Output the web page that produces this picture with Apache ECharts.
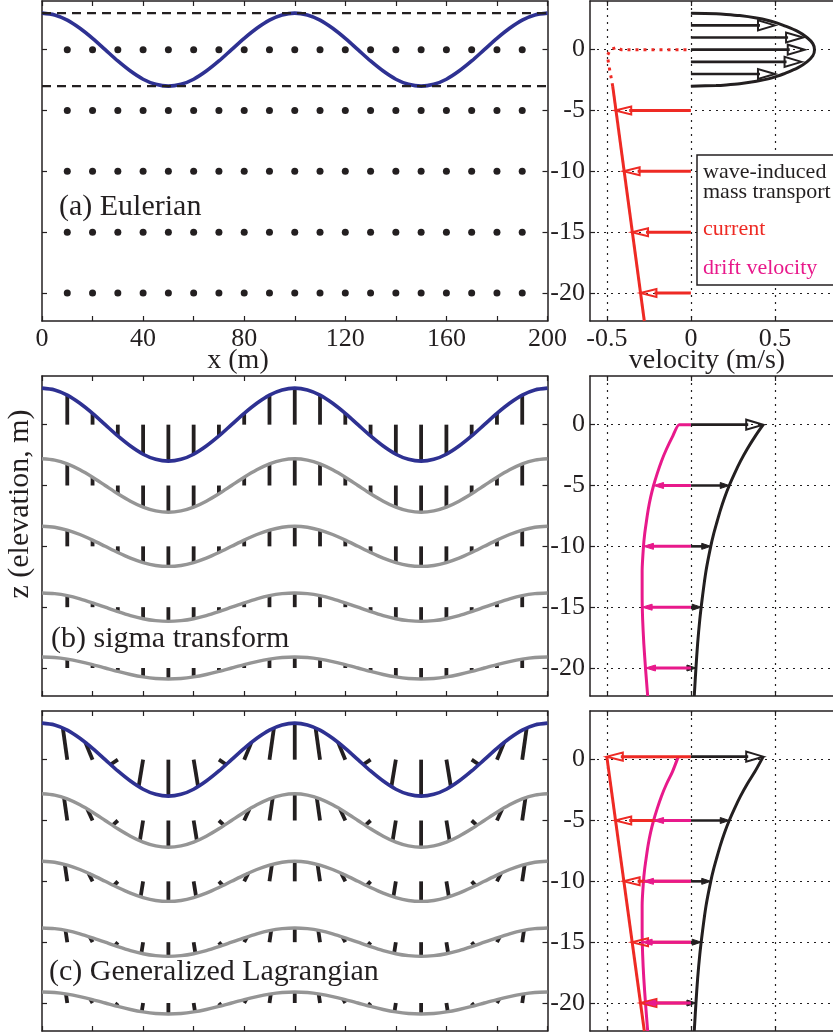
<!DOCTYPE html>
<html><head><meta charset="utf-8">
<script src="https://cdn.jsdelivr.net/npm/echarts@6/dist/echarts.min.js"></script>
<style>html,body{margin:0;padding:0;background:#fff}#c{width:833px;height:1034px}</style>
</head><body><div id="c"></div><script>
// ---------------- data ----------------
// left panels: x positions (m) of the plotted wave / layer curves
const xGrid = [0,5,10,15,20,25,30,35,40,45,50,55,60,65,70,75,80,85,90,95,100,105,110,115,120,125,130,135,140,145,150,155,160,165,170,175,180,185,190,195,200];
// free surface and four deeper layers (elevation, m)
const surface = [3,2.85,2.43,1.76,0.93,0,-0.93,-1.76,-2.43,-2.85,-3,-2.85,-2.43,-1.76,-0.93,0,0.93,1.76,2.43,2.85,3,2.85,2.43,1.76,0.93,0,-0.93,-1.76,-2.43,-2.85,-3,-2.85,-2.43,-1.76,-0.93,0,0.93,1.76,2.43,2.85,3];
const layer5 = [-2.8,-2.91,-3.22,-3.71,-4.32,-5,-5.68,-6.29,-6.78,-7.09,-7.2,-7.09,-6.78,-6.29,-5.68,-5,-4.32,-3.71,-3.22,-2.91,-2.8,-2.91,-3.22,-3.71,-4.32,-5,-5.68,-6.29,-6.78,-7.09,-7.2,-7.09,-6.78,-6.29,-5.68,-5,-4.32,-3.71,-3.22,-2.91,-2.8];
const layer10 = [-8.35,-8.43,-8.67,-9.03,-9.49,-10,-10.51,-10.97,-11.33,-11.57,-11.65,-11.57,-11.33,-10.97,-10.51,-10,-9.49,-9.03,-8.67,-8.43,-8.35,-8.43,-8.67,-9.03,-9.49,-10,-10.51,-10.97,-11.33,-11.57,-11.65,-11.57,-11.33,-10.97,-10.51,-10,-9.49,-9.03,-8.67,-8.43,-8.35];
const layer15 = [-13.83,-13.89,-14.05,-14.31,-14.64,-15,-15.36,-15.69,-15.95,-16.11,-16.17,-16.11,-15.95,-15.69,-15.36,-15,-14.64,-14.31,-14.05,-13.89,-13.83,-13.89,-14.05,-14.31,-14.64,-15,-15.36,-15.69,-15.95,-16.11,-16.17,-16.11,-15.95,-15.69,-15.36,-15,-14.64,-14.31,-14.05,-13.89,-13.83];
const layer20 = [-19.1,-19.14,-19.27,-19.47,-19.72,-20,-20.28,-20.53,-20.73,-20.86,-20.9,-20.86,-20.73,-20.53,-20.28,-20,-19.72,-19.47,-19.27,-19.14,-19.1,-19.14,-19.27,-19.47,-19.72,-20,-20.28,-20.53,-20.73,-20.86,-20.9,-20.86,-20.73,-20.53,-20.28,-20,-19.72,-19.47,-19.27,-19.14,-19.1];
const layerMeans = [0,-5,-10,-15,-20];
// panel (a): dashed crest/trough levels, grid points
const dashLevels = [3,-3];
const xRange = [0,200];
const dotX = [10,20,30,40,50,60,70,80,90,100,110,120,130,140,150,160,170,180,190];
const dotZ = [0,-5,-10,-15,-20];
// panels (b),(c): stick mean positions
const stickX = [10,20,30,40,50,60,70,80,90,100,110,120,130,140,150,160,170,180,190];
// panel (c): displaced (Lagrangian) stick end points per layer
const glmEndX0 = [8.24,17.15,27.15,38.24,50,61.76,72.85,82.85,91.76,100,108.24,117.15,127.15,138.24,150,161.76,172.85,182.85,191.76];
const glmEndZ0 = [2.61,1.42,-0.40,-2.22,-3,-2.22,-0.40,1.42,2.61,3,2.61,1.42,-0.40,-2.22,-3,-2.22,-0.40,1.42,2.61];
const glmEndX1 = [8.71,17.91,27.91,38.71,50,61.29,72.09,82.09,91.29,100,108.71,117.91,127.91,138.71,150,161.29,172.09,182.09,191.29];
const glmEndZ1 = [-3.12,-4.05,-5.40,-6.67,-7.2,-6.67,-5.40,-4.05,-3.12,-2.8,-3.12,-4.05,-5.40,-6.67,-7.2,-6.67,-5.40,-4.05,-3.12];
const glmEndX2 = [9.03,18.43,28.43,39.03,50,60.97,71.57,81.57,90.97,100,109.03,118.43,128.43,139.03,150,160.97,171.57,181.57,190.97];
const glmEndZ2 = [-8.61,-9.34,-10.35,-11.27,-11.65,-11.27,-10.35,-9.34,-8.61,-8.35,-8.61,-9.34,-10.35,-11.27,-11.65,-11.27,-10.35,-9.34,-8.61];
const glmEndX3 = [9.31,18.89,28.89,39.31,50,60.69,71.11,81.11,90.69,100,109.31,118.89,128.89,139.31,150,160.69,171.11,181.11,190.69];
const glmEndZ3 = [-14.02,-14.56,-15.28,-15.92,-16.17,-15.92,-15.28,-14.56,-14.02,-13.83,-14.02,-14.56,-15.28,-15.92,-16.17,-15.92,-15.28,-14.56,-14.02];
const glmEndX4 = [9.47,19.14,29.14,39.47,50,60.53,70.86,80.86,90.53,100,109.47,119.14,129.14,139.47,150,160.53,170.86,180.86,190.53];
const glmEndZ4 = [-19.25,-19.68,-20.23,-20.71,-20.9,-20.71,-20.23,-19.68,-19.25,-19.1,-19.25,-19.68,-20.23,-20.71,-20.9,-20.71,-20.23,-19.68,-19.25];

// right panel (a): wave-induced mass transport profile (z in m, v in m/s)
const massZ = [3,2.95,2.9,2.8,2.6,2.4,2.2,2,1.5,1,0.5,0,-0.5,-1,-1.5,-2,-2.2,-2.4,-2.6,-2.8,-2.9,-2.95,-3];
const massV = [0,0.15,0.21,0.29,0.39,0.46,0.51,0.55,0.635,0.69,0.725,0.735,0.725,0.69,0.635,0.55,0.51,0.46,0.39,0.29,0.21,0.15,0];
const massArrowZ = [2,1,0,-1,-2];
const massArrowV = [0.5,0.667,0.677,0.658,0.5];
const currentZa = [-3,-22.3];
const currentVa = [-0.465,-0.277];
const currentDotZ = [-3,-1.5,-0.5,0,0.2,0,0];
const currentDotV = [-0.465,-0.485,-0.497,-0.48,-0.44,-0.415,0];
const currentArrowZ = [-5,-10,-15,-20];
const currentArrowV = [-0.45,-0.4,-0.35,-0.3];

// right panel (b): Stokes drift and drift velocity
const stokesZ = [0,-1,-2,-3,-4,-5,-6,-7,-8,-9,-10,-12,-14,-16,-18,-20,-22.3];
const stokesV = [0.43,0.38,0.335,0.295,0.26,0.228,0.2,0.176,0.155,0.135,0.118,0.09,0.07,0.053,0.04,0.03,0.02];
const driftZb = [0,0,-1,-2,-3,-4,-5,-6,-7,-8,-9,-10,-12,-14,-16,-18,-20,-22.3];
const driftVb = [0,-0.07,-0.11,-0.145,-0.175,-0.2,-0.222,-0.24,-0.254,-0.265,-0.275,-0.282,-0.29,-0.29,-0.287,-0.28,-0.27,-0.257];
const stokesArrowZ = [0,-5,-10,-15,-20];
const stokesArrowV = [0.43,0.228,0.118,0.061,0.03];
const driftArrowZ = [-5,-10,-15,-20];
const driftArrowV = [-0.222,-0.282,-0.29,-0.27];

// right panel (c)
const stokesZc = [0.25,-1,-2,-3,-4,-5,-6,-7,-8,-9,-10,-12,-14,-16,-18,-20,-22.3];
const stokesVc = [0.43,0.38,0.335,0.295,0.26,0.228,0.2,0.176,0.155,0.135,0.118,0.09,0.07,0.053,0.04,0.03,0.02];
const driftZc = [0.25,-1,-2,-3,-4,-5,-6,-7,-8,-9,-10,-12,-14,-16,-18,-20,-22.3];
const driftVc = [-0.075,-0.11,-0.145,-0.175,-0.2,-0.222,-0.24,-0.254,-0.265,-0.275,-0.282,-0.29,-0.29,-0.287,-0.28,-0.27,-0.257];
const currentZc = [0.25,-22.3];
const currentVc = [-0.5,-0.277];
const currentArrowZc = [0.25,-5,-10,-15,-20];
const currentArrowVc = [-0.5,-0.45,-0.4,-0.35,-0.3];
const stokesArrowZc = [0.25,-5,-10,-15,-20];
const stokesArrowVc = [0.43,0.228,0.118,0.061,0.03];

// axis ticks
const zTicks = [-20,-15,-10,-5,0];
const vTicks = [-0.5,0,0.5];

// ---------------- styling ----------------
const FONT = '"Liberation Serif","Times New Roman",serif';
const INK = '#231f20', BLUE = '#2e3192', GRAY = '#959595', RED = '#ee2a24', MAG = '#e8198b';

const grids = [
  {left:42, top:1, width:505.5, height:320},
  {left:590, top:1, width:243.2, height:320},
  {left:42, top:376, width:505.5, height:320},
  {left:590, top:376, width:243.2, height:320},
  {left:42, top:711, width:505.5, height:320},
  {left:590, top:711, width:243.2, height:320}
];
const xAxes = [], yAxes = [];
const lineAx = {show:true, onZero:false, lineStyle:{color:INK, width:1.5}};
const dotted = {show:true, lineStyle:{color:INK, width:1.2, type:[2,5]}};
grids.forEach((g, gi) => {
  const isLeft = gi % 2 === 0;
  const showX = gi < 2;
  const xb = {gridIndex:gi, type:'value', position:'bottom',
    axisLine:lineAx,
    axisTick:{show:true, inside:true, length:5, lineStyle:{color:INK, width:1.2}},
    axisLabel:{show:showX, color:INK, fontFamily:FONT, fontSize:26, margin:5},
    splitLine:{show:false}};
  const xt = {gridIndex:gi, type:'value', position:'top', axisLine:lineAx,
    axisTick:{show:true, inside:true, length:5, lineStyle:{color:INK, width:1.2}},
    axisLabel:{show:false}, splitLine:{show:false}};
  if (isLeft) {
    Object.assign(xb, {min:0, max:200, interval:20});
    xb.axisLabel.formatter = v => (v % 40 === 0 ? String(v) : '');
    Object.assign(xt, {min:0, max:200, interval:20});
  } else {
    Object.assign(xb, {min:-0.6, max:0.845});
    xb.axisTick.customValues = vTicks;
    xb.axisLabel.customValues = vTicks;
    xb.splitLine = dotted;
    Object.assign(xt, {min:-0.6, max:0.845});
    xt.axisTick.customValues = vTicks;
  }
  xAxes.push(xb, xt);
  const yl = {gridIndex:gi, type:'value', position:'left', min:-22.3, max:4,
    axisLine:lineAx,
    axisTick:{show:true, inside:true, length:5, customValues:zTicks, lineStyle:{color:INK, width:1.2}},
    axisLabel:{show:!isLeft, customValues:zTicks, color:INK, fontFamily:FONT, fontSize:26, margin:5},
    splitLine: isLeft ? {show:false} : dotted};
  const yr = {gridIndex:gi, type:'value', position:'right', min:-22.3, max:4,
    axisLine: isLeft ? lineAx : {show:false, onZero:false},
    axisTick:{show:isLeft, inside:true, length:5, customValues:zTicks, lineStyle:{color:INK, width:1.2}},
    axisLabel:{show:false}, splitLine:{show:false}};
  yAxes.push(yl, yr);
});

function lineS(g, data, color, width, z, opts) {
  opts = opts || {};
  return {type:'line', xAxisIndex:2*g, yAxisIndex:2*g, data:data, symbol:'none', showSymbol:false,
    smooth: opts.smooth || false, silent:true, animation:false, z:z,
    lineStyle:{color:color, width:width, type: opts.type || 'solid', cap:'butt'},
    itemStyle:{color:color}};
}
function stickRender(params, api) {
  const a = api.coord([api.value(0), api.value(1)]);
  const b = api.coord([api.value(2), api.value(3)]);
  return {type:'line', shape:{x1:a[0], y1:a[1], x2:b[0], y2:b[1]},
    style:{stroke:INK, lineWidth:3.8, lineCap:'butt'}};
}
function stickS(g, data, z) {
  return {type:'custom', xAxisIndex:2*g, yAxisIndex:2*g, data:data, renderItem:stickRender,
    encode:{x:[0,2], y:[1,3]}, silent:true, animation:false, z:z};
}
function arrowS(g, zs, vs, st, z) {
  const data = zs.map((zz, i) => [0, zz, vs[i]]);
  return {type:'custom', xAxisIndex:2*g, yAxisIndex:2*g, data:data, silent:true, animation:false, z:z,
    encode:{x:[0,2], y:1},
    renderItem: function(params, api) {
      const p0 = api.coord([api.value(0), api.value(1)]);
      const p1 = api.coord([api.value(2), api.value(1)]);
      const dir = p1[0] >= p0[0] ? 1 : -1;
      const L = st.headLen, W = st.headW / 2;
      const bx = p1[0] - dir * L;
      const shaftEnd = st.open ? bx + dir * 2 : p1[0] - dir * L * 0.5;
      return {type:'group', children:[
        {type:'line', shape:{x1:p0[0], y1:p0[1], x2:shaftEnd, y2:p1[1]},
          style:{stroke:st.color, lineWidth:st.width, lineCap:'butt'}},
        {type:'polygon', shape:{points:[[p1[0], p1[1]], [bx, p1[1]-W], [bx, p1[1]+W]]},
          style:{fill: st.open ? 'rgba(255,255,255,0)' : st.color, stroke:st.color,
                 lineWidth: st.open ? 2 : 1, lineJoin:'miter'}}
      ]};
    }};
}
const OPEN_BLACK = {color:INK, width:2.6, headLen:17, headW:10, open:true};
const SMALL_BLACK = {color:INK, width:2.6, headLen:9, headW:6, open:false};
const OPEN_RED = {color:RED, width:3, headLen:16, headW:8, open:true};
const SMALL_MAG = {color:MAG, width:3, headLen:10, headW:6, open:false};

const layers = [surface, layer5, layer10, layer15, layer20];
const glmEndX = [glmEndX0, glmEndX1, glmEndX2, glmEndX3, glmEndX4];
const glmEndZ = [glmEndZ0, glmEndZ1, glmEndZ2, glmEndZ3, glmEndZ4];
const pairs = (xs, ys) => xs.map((x, i) => [x, ys[i]]);

const series = [];
// ---- (a) left: Eulerian
series.push(lineS(0, pairs(xGrid, surface), BLUE, 3.6, 3, {smooth:0.3}));
dashLevels.forEach(lvl => series.push(lineS(0, xRange.map(x => [x, lvl]), INK, 2.2, 4, {type:[9,6]})));
series.push({type:'scatter', xAxisIndex:0, yAxisIndex:0, silent:true, animation:false, z:5,
  data: dotZ.flatMap(zz => dotX.map(x => [x, zz])), symbolSize:7, itemStyle:{color:INK, opacity:1}});
// ---- (b) left: sigma transform
series.push(stickS(2, layers.flatMap((L, j) => stickX.map(x0 => [x0, layerMeans[j], x0, L[xGrid.indexOf(x0)]])), 3));
layers.forEach((L, j) => series.push(lineS(2, pairs(xGrid, L), j === 0 ? BLUE : GRAY, j === 0 ? 3.6 : 3.4, 4, {smooth:0.3})));
// ---- (c) left: generalized Lagrangian
series.push(stickS(4, glmEndX.flatMap((EX, j) => stickX.map((x0, s) => [x0, layerMeans[j], EX[s], glmEndZ[j][s]])), 3));
layers.forEach((L, j) => series.push(lineS(4, pairs(xGrid, L), j === 0 ? BLUE : GRAY, j === 0 ? 3.6 : 3.4, 4, {smooth:0.3})));

// ---- (a) right
series.push(lineS(1, pairs(massV, massZ), INK, 3, 3, {smooth:0.3}));
series.push(arrowS(1, massArrowZ, massArrowV, OPEN_BLACK, 4));
series.push(lineS(1, pairs(currentVa, currentZa), RED, 3, 3));
series.push(lineS(1, pairs(currentDotV, currentDotZ), RED, 3, 3, {type:[3,5]}));
series.push(arrowS(1, currentArrowZ, currentArrowV, OPEN_RED, 4));
// ---- (b) right
series.push(lineS(3, pairs(stokesV, stokesZ), INK, 3, 3, {smooth:0.3}));
series.push(lineS(3, pairs(driftVb, driftZb), MAG, 3, 3, {smooth:0.2}));
series.push(arrowS(3, stokesArrowZ.slice(0,1), stokesArrowV.slice(0,1), OPEN_BLACK, 4));
series.push(arrowS(3, stokesArrowZ.slice(1), stokesArrowV.slice(1), SMALL_BLACK, 4));
series.push(arrowS(3, driftArrowZ, driftArrowV, SMALL_MAG, 4));
// ---- (c) right
series.push(lineS(5, pairs(currentVc, currentZc), RED, 3, 3));
series.push(lineS(5, pairs(driftVc, driftZc), MAG, 3, 3, {smooth:0.3}));
series.push(lineS(5, pairs(stokesVc, stokesZc), INK, 3, 3, {smooth:0.3}));
series.push(arrowS(5, currentArrowZc, currentArrowVc, OPEN_RED, 4));
series.push(arrowS(5, driftArrowZ, driftArrowV, SMALL_MAG, 5));
series.push(arrowS(5, stokesArrowZc.slice(0,1), stokesArrowVc.slice(0,1), OPEN_BLACK, 4));
series.push(arrowS(5, stokesArrowZc.slice(1), stokesArrowVc.slice(1), SMALL_BLACK, 4));

function txt(x, y, text, size, color, align, extra) {
  return Object.assign({type:'text', x:x, y:y, z:101, silent:true,
    style:{text:text, fill:color, font: size + 'px ' + FONT, fontSize:size, fontFamily:FONT,
      textAlign:align, align:align, textVerticalAlign:'middle', verticalAlign:'middle'}}, extra || {});
}
const graphic = [
  txt(238, 361, 'x (m)', 28, INK, 'center'),
  txt(707, 361, 'velocity (m/s)', 28, INK, 'center'),
  txt(20, 504, 'z (elevation, m)', 30, INK, 'center', {rotation: Math.PI/2}),
  txt(59, 207, '(a) Eulerian', 30, INK, 'left'),
  txt(51, 639, '(b) sigma transform', 30, INK, 'left'),
  txt(49, 972, '(c) Generalized Lagrangian', 30, INK, 'left'),
  {type:'rect', z:100, silent:true, shape:{x:697, y:155, width:170, height:130},
    style:{fill:'#fff', stroke:INK, lineWidth:1.5}},
  txt(703, 172, 'wave-induced', 22, INK, 'left'),
  txt(703, 192, 'mass transport', 22, INK, 'left'),
  txt(703, 229, 'current', 22, RED, 'left'),
  txt(703, 268, 'drift velocity', 22, MAG, 'left')
];

const chart = echarts.init(document.getElementById('c'), null, {renderer:'canvas'});
chart.setOption({
  backgroundColor:'#fff',
  animation:false,
  textStyle:{fontFamily:FONT},
  grid: grids,
  xAxis: xAxes,
  yAxis: yAxes,
  series: series,
  graphic: graphic
});
</script></body></html>
